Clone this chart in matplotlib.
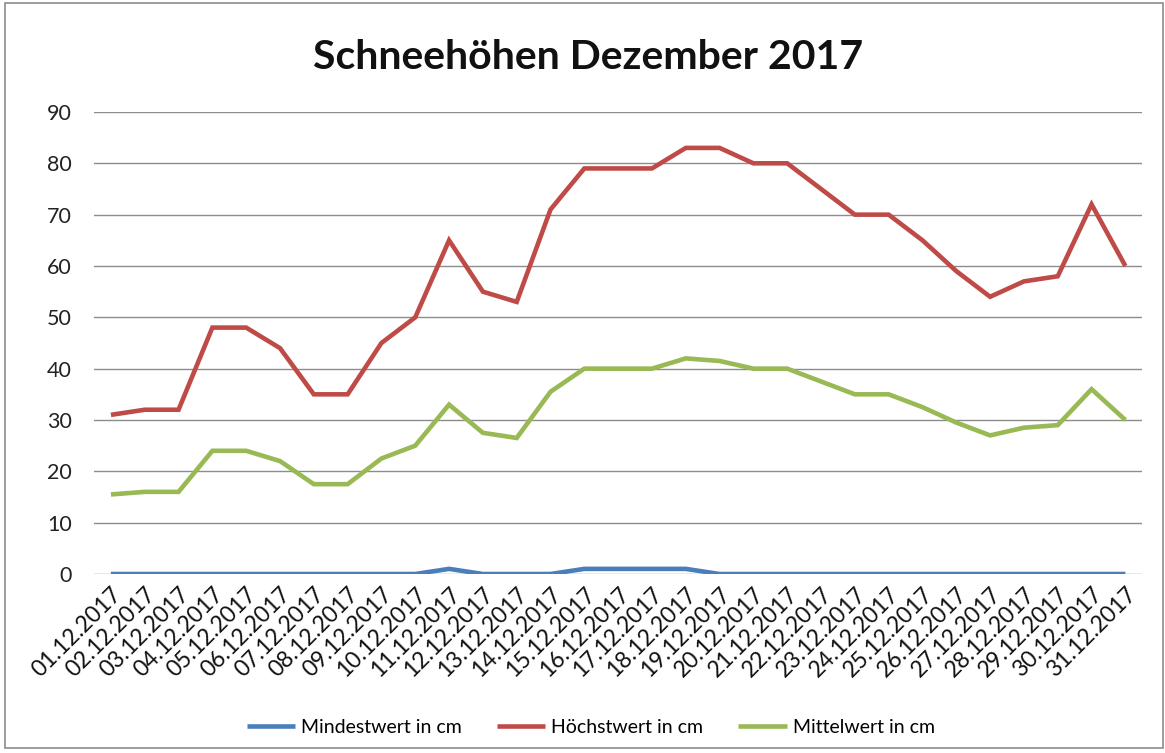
import matplotlib
matplotlib.use("Agg")
import matplotlib.pyplot as plt
from matplotlib.patches import Rectangle

plt.rcParams['font.family'] = ['Lato', 'DejaVu Sans']

dates = [f"{d:02d}.12.2017" for d in range(1, 32)]
mindest = [0, 0, 0, 0, 0, 0, 0, 0, 0, 0, 1, 0, 0, 0, 1, 1, 1, 1, 0, 0, 0, 0, 0, 0, 0, 0, 0, 0, 0, 0, 0]
hoechst = [31, 32, 32, 48, 48, 44, 35, 35, 45, 50, 65, 55, 53, 71, 79, 79, 79, 83, 83, 80, 80, 75, 70, 70, 65, 59, 54, 57, 58, 72, 60]
mittel = [15.5, 16, 16, 24, 24, 22, 17.5, 17.5, 22.5, 25, 33, 27.5, 26.5, 35.5, 40, 40, 40, 42, 41.5, 40, 40, 37.5, 35, 35, 32.5, 29.5, 27, 28.5, 29, 36, 30]
series_names = ["Mindestwert in cm", "Höchstwert in cm", "Mittelwert in cm"]
colors = ["#4A7EBB", "#BE4B48", "#98B954"]
yticks = list(range(0, 100, 10))

fig = plt.figure(figsize=(11.65, 7.53), dpi=100)
ax = fig.add_axes([0.0807, 0.2377, 0.9805 - 0.0807, 0.8513 - 0.2377])

x = list(range(len(dates)))
for vals, name, c in zip([mindest, hoechst, mittel], series_names, colors):
    ax.plot(x, vals, color=c, lw=3.3, label=name, solid_joinstyle='miter', solid_capstyle='butt')

ax.set_xlim(-0.5, len(dates) - 0.5)
ax.set_ylim(0, 90)
ax.set_yticks(yticks)
ax.set_yticklabels([str(v) for v in yticks], fontsize=15.5, color="#222222")
ax.set_xticks(x)
ax.set_xticklabels(dates, rotation=45, ha='right', rotation_mode='anchor', fontsize=16.5, color="#111111")
ax.tick_params(axis='x', length=0, pad=7)
ax.tick_params(axis='y', length=0, pad=16)
for s in ax.spines.values():
    s.set_visible(False)
ax.grid(axis='y', color='#8c8c8c', lw=1)
ax.set_axisbelow(True)

fig.text(0.505, 0.924, "Schneehöhen Dezember 2017", ha='center', va='center',
         fontsize=29.5, fontweight='bold', color="#111111")

leg = fig.legend(loc='center', bbox_to_anchor=(0.507, 0.0345), ncol=3, frameon=False,
                 fontsize=14, handlelength=2.5, columnspacing=1.8, handletextpad=0.3)

fig.add_artist(Rectangle((0.004, 0.006), 0.994, 0.99, transform=fig.transFigure,
                         fill=False, edgecolor='#8c8c8c', lw=1.2))

fig.savefig("out.png", dpi=100)
